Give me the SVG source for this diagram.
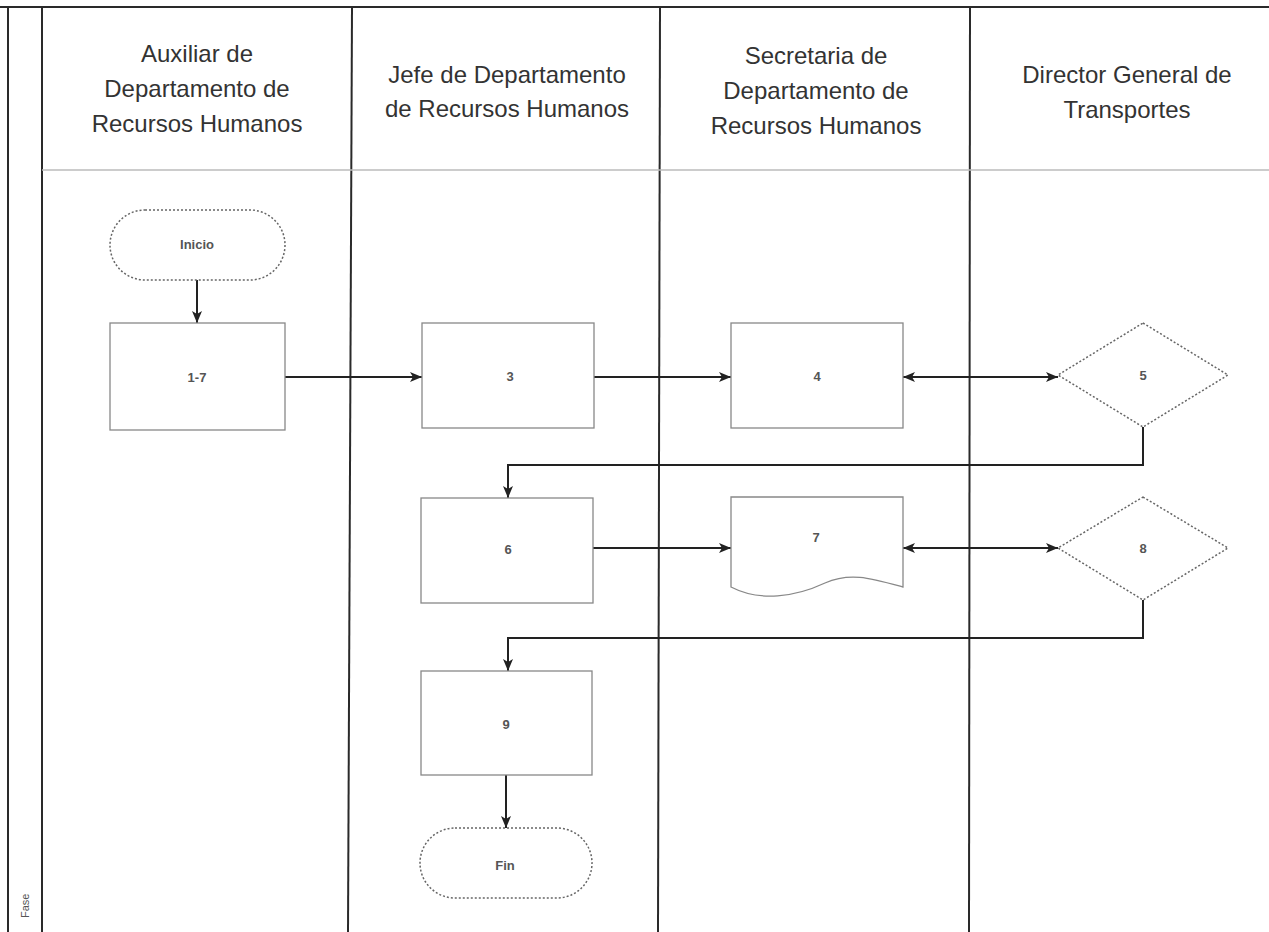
<svg xmlns="http://www.w3.org/2000/svg" width="1269" height="932" viewBox="0 0 1269 932">
<style>
.lane{stroke:#2a2a2a;stroke-width:2;fill:none}
.hdr{stroke:#bbb;stroke-width:1.5;fill:none}
.box{stroke:#888;stroke-width:1.3;fill:#fff}
.dot{stroke:#666;stroke-width:1.5;fill:#fff;stroke-dasharray:2 2}
.conn{stroke:#222;stroke-width:2;fill:none}
.ht{font-family:"Liberation Sans",Arial,sans-serif;font-size:24px;fill:#333;text-anchor:middle}
.nt{font-family:"Liberation Sans",Arial,sans-serif;font-size:13px;fill:#555;text-anchor:middle;font-weight:bold}
</style>
<defs>
<marker id="ah" viewBox="0 0 12 10" refX="12" refY="5" markerWidth="12" markerHeight="10" markerUnits="userSpaceOnUse" orient="auto-start-reverse">
<path d="M0,0 L12,5 L0,10 L3,5 Z" fill="#222"/>
</marker>
</defs>
<rect width="1269" height="932" fill="#fff"/>
<g id="frame">
<line class="lane" x1="0" y1="7" x2="1269" y2="7"/>
<line class="lane" x1="8" y1="7" x2="8" y2="932"/>
<line class="lane" x1="42" y1="7" x2="42" y2="932"/>
<line class="lane" x1="352" y1="7" x2="348" y2="932"/>
<line class="lane" x1="660" y1="7" x2="658" y2="932"/>
<line class="lane" x1="970" y1="7" x2="969" y2="932"/>
<line class="hdr" x1="42" y1="170" x2="1269" y2="170"/>
<text x="29" y="918" transform="rotate(-90 29 918)" font-family="Liberation Sans,Arial,sans-serif" font-size="11" fill="#555">Fase</text>
</g>
<g id="headers">
<text class="ht" x="197" y="62">Auxiliar de</text>
<text class="ht" x="197" y="97">Departamento de</text>
<text class="ht" x="197" y="132">Recursos Humanos</text>
<text class="ht" x="507" y="83">Jefe de Departamento</text>
<text class="ht" x="507" y="117">de Recursos Humanos</text>
<text class="ht" x="816" y="64">Secretaria de</text>
<text class="ht" x="816" y="99">Departamento de</text>
<text class="ht" x="816" y="134">Recursos Humanos</text>
<text class="ht" x="1127" y="83">Director General de</text>
<text class="ht" x="1127" y="118">Transportes</text>
</g>
<g id="connectors">
<line class="conn" x1="197" y1="280" x2="197" y2="323" marker-end="url(#ah)"/>
<line class="conn" x1="285" y1="377" x2="422" y2="377" marker-end="url(#ah)"/>
<line class="conn" x1="594" y1="377" x2="731" y2="377" marker-end="url(#ah)"/>
<line class="conn" x1="903" y1="377" x2="1058" y2="377" marker-start="url(#ah)" marker-end="url(#ah)"/>
<polyline class="conn" points="1143,427 1143,465 508,465 508,498" marker-end="url(#ah)"/>
<line class="conn" x1="593" y1="548" x2="731" y2="548" marker-end="url(#ah)"/>
<line class="conn" x1="903" y1="548" x2="1058" y2="548" marker-start="url(#ah)" marker-end="url(#ah)"/>
<polyline class="conn" points="1143,600 1143,638 508,638 508,671" marker-end="url(#ah)"/>
<line class="conn" x1="506" y1="775" x2="506" y2="828" marker-end="url(#ah)"/>
</g>
<g id="n-inicio">
<rect class="dot" x="110" y="210" width="175" height="70" rx="35"/>
<text class="nt" x="197" y="249">Inicio</text>
</g>
<g id="n-1-7">
<rect class="box" x="110" y="323" width="175" height="107"/>
<text class="nt" x="197" y="382">1-7</text>
</g>
<g id="n-3">
<rect class="box" x="422" y="323" width="172" height="105"/>
<text class="nt" x="510" y="381">3</text>
</g>
<g id="n-4">
<rect class="box" x="731" y="323" width="172" height="105"/>
<text class="nt" x="817" y="381">4</text>
</g>
<g id="n-5">
<polygon class="dot" points="1143,323 1228,375 1143,427 1058,375"/>
<text class="nt" x="1143" y="380">5</text>
</g>
<g id="n-6">
<rect class="box" x="421" y="498" width="172" height="105"/>
<text class="nt" x="508" y="554">6</text>
</g>
<g id="n-7">
<path class="box" d="M731,497 L903,497 L903,587 C870,578 850,572 825,583 C795,597 760,602 731,587 Z"/>
<text class="nt" x="816" y="542">7</text>
</g>
<g id="n-8">
<polygon class="dot" points="1143,497 1228,548 1143,600 1058,548"/>
<text class="nt" x="1143" y="553">8</text>
</g>
<g id="n-9">
<rect class="box" x="421" y="671" width="171" height="104"/>
<text class="nt" x="506" y="729">9</text>
</g>
<g id="n-fin">
<rect class="dot" x="420" y="828" width="172" height="70" rx="35"/>
<text class="nt" x="505" y="870">Fin</text>
</g>
</svg>
